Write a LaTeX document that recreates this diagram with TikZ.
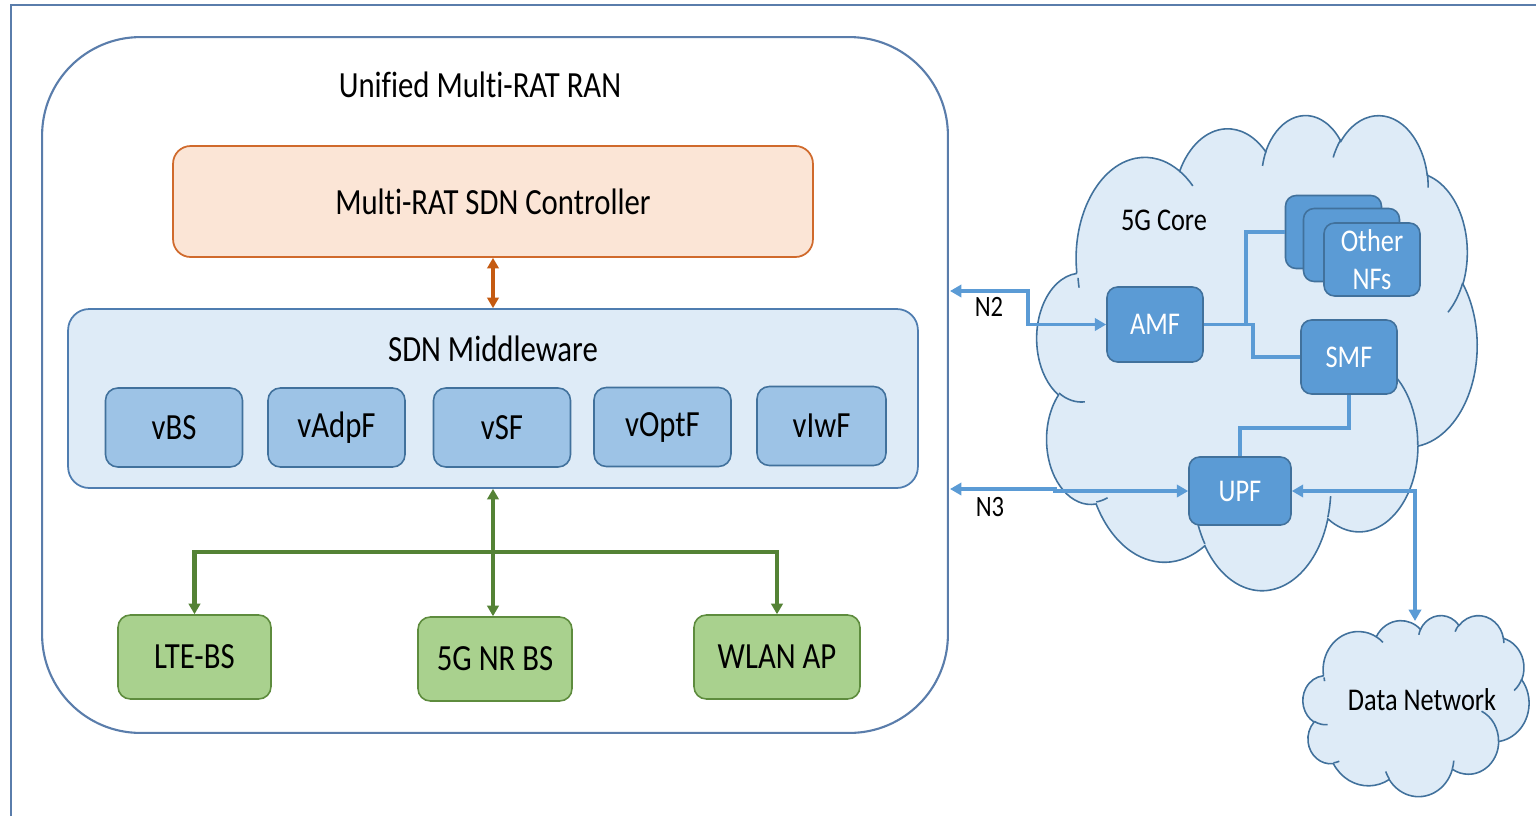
\documentclass[tikz,border=0pt]{standalone}
\usepackage{graphicx}
\usepackage{fontspec}
\setmainfont{Carlito}[Ligatures=NoCommon]
\usetikzlibrary{arrows.meta}

\definecolor{frameblue}{HTML}{5A7DAB}
\definecolor{ctrlfill}{HTML}{FBE5D6}
\definecolor{ctrlline}{HTML}{D06A2C}
\definecolor{ctrlarrow}{HTML}{C55A11}
\definecolor{mwfill}{HTML}{DEEBF7}
\definecolor{mwline}{HTML}{4F7DB0}
\definecolor{vfill}{HTML}{9DC3E6}
\definecolor{vline}{HTML}{41719C}
\definecolor{gfill}{HTML}{A9D18E}
\definecolor{gline}{HTML}{5E8C3E}
\definecolor{garrowc}{HTML}{548235}
\definecolor{cloudfill}{HTML}{DEEBF7}
\definecolor{cloudline}{HTML}{41719C}
\definecolor{nffill}{HTML}{5B9BD5}
\definecolor{link}{HTML}{5B9BD5}

% labels are set slightly condensed (taller than wide)
\newcommand\tall[1]{\scalebox{1}[1.2]{#1}}

% parametric angle of an ellipse point given by its visual angle
\pgfmathdeclarefunction{pang}{3}{\pgfmathparse{atan2((#1)*sin(#3),(#2)*cos(#3))}}
% parametric sweep between two visual angles, keeping the sweep direction
\pgfmathdeclarefunction{pdelta}{4}{\pgfmathparse{ifthenelse((#4)>0, mod(pang(#1,#2,(#3)+(#4))-pang(#1,#2,#3)+720,360), -mod(pang(#1,#2,#3)-pang(#1,#2,(#3)+(#4))+720,360))}}

\tikzset{
  oarc/.style n args={4}{x radius=#1, y radius=#2,
    start angle={pang(#1,#2,#3)}, delta angle={pdelta(#1,#2,#3,#4)}},
  big/.style={font=\fontsize{17.5}{21}\selectfont},
  mid/.style={font=\fontsize{15}{18}\selectfont},
  small/.style={font=\fontsize{14}{17}\selectfont},
  frame/.style={draw=frameblue, line width=1.4pt},
  ranbox/.style={draw=frameblue, line width=1.2pt, fill=white, rounded corners=56pt},
  ctrlbox/.style={draw=ctrlline, line width=1pt, fill=ctrlfill, rounded corners=10pt, big},
  mwbox/.style={draw=mwline, line width=1pt, fill=mwfill, rounded corners=12pt},
  vbox/.style={draw=vline, line width=0.9pt, fill=vfill, rounded corners=7pt,
    minimum width=2.74cm, minimum height=1.58cm, big},
  gbox/.style={draw=gline, line width=0.9pt, fill=gfill, rounded corners=7pt,
    minimum height=1.68cm, big},
  nfbox/.style={draw=vline, line width=0.9pt, fill=nffill, rounded corners=6pt,
    text=white, mid},
  cloudstyle/.style={draw=cloudline, line width=0.9pt, fill=cloudfill},
  oarrow/.style={draw=ctrlarrow, line width=2pt,
    {Triangle[length=6pt,width=6.5pt]}-{Triangle[length=6pt,width=6.5pt]}},
  garrow/.style={draw=garrowc, line width=2.3pt,
    {Triangle[length=6pt,width=6.5pt]}-{Triangle[length=6pt,width=6.5pt]}},
  blink/.style={draw=link, line width=2.2pt},
  barrow/.style={blink,
    {Triangle[length=6.5pt,width=7pt]}-{Triangle[length=6.5pt,width=7pt]}},
}

% Office-style cloud in a box: #1,#2 top-left corner, #3 width, #4 height
\newcommand\drawcloud[4]{%
  \pgfmathsetmacro\cldx{#3*0.02/43.2}%
  \pgfmathsetmacro\cldy{#4*0.02/43.2}%
  \begin{scope}[shift={(#1,#2)}, x=\cldx cm, y=-\cldy cm]
    \filldraw[cloudstyle] (3.900,14.370)
      arc[oarc={6.753}{9.190}{-190.48748}{123.78053}]
      arc[oarc={5.333}{7.267}{-144.10238}{89.94523}]
      arc[oarc={4.365}{5.945}{-145.80792}{99.72302}]
      arc[oarc={4.857}{6.595}{-130.98607}{117.24173}]
      arc[oarc={5.333}{7.273}{-78.70888}{109.02692}]
      arc[oarc={6.775}{9.220}{-46.26725}{130.269}]
      arc[oarc={5.785}{7.867}{0.62502}{114.03333}]
      arc[oarc={6.752}{9.215}{22.4516}{115.17255}]
      arc[oarc={7.720}{10.543}{66.24263}{75.71102}]
      arc[oarc={4.360}{5.918}{-274.94208}{146.73557}]
      arc[oarc={4.345}{5.945}{-246.8285}{152.51885}]
      -- cycle;
    \draw[cloudstyle, fill=none]
      (4.693,26.177) arc[oarc={4.345}{5.945}{86.742}{26.4295}]
      (6.928,34.899) arc[oarc={4.360}{5.918}{73.61047}{11.44747}]
      (16.478,39.090) arc[oarc={6.752}{9.215}{137.62415}{14.0811}]
      (28.827,34.751) arc[oarc={6.752}{9.215}{6.45327}{15.99835}]
      (34.129,22.954) arc[oarc={5.785}{7.867}{-70.29235}{70.91737}]
      (41.798,15.354) arc[oarc={5.333}{7.273}{30.31803}{27.7515}]
      (38.324,5.426) arc[oarc={4.857}{6.595}{-13.74433}{14.8589}]
      (29.078,3.952) arc[oarc={4.857}{6.595}{-149.18145}{18.19537}]
      (22.141,4.720) arc[oarc={4.365}{5.945}{-163.49427}{17.68635}]
      (14.000,5.192) arc[oarc={6.753}{9.190}{-66.70695}{12.31935}]
      (4.127,15.789) arc[oarc={6.753}{9.190}{164.58518}{7.50262}];
  \end{scope}}

\begin{document}
\begin{tikzpicture}[x=0.02cm, y=-0.02cm]
\useasboundingbox (0,0) rectangle (1536,816);

% page frame
\draw[frame] (11,816) -- (11,5) -- (1536,5);

% ---------------- RAN side ----------------
\node[ranbox, minimum width=18.12cm, minimum height=13.92cm] (ran) at (495,385) {};
\node[big] (rantitle) at (480,85) {\tall{Unified Multi-RAT RAN}};

\node[ctrlbox, minimum width=12.8cm, minimum height=2.22cm] (ctrl) at (493,201.5)
  {\tall{Multi-RAT SDN Controller}};

\node[mwbox, minimum width=17cm, minimum height=3.58cm] (mw) at (493,398.5) {};
\node[big] (mwtitle) at (493,349) {\tall{SDN Middleware}};

\node[vbox] (vbs)   at (174,427.5) {\tall{vBS}};
\node[vbox] (vadpf) at (336.5,427.5) {\tall{vAdpF}};
\node[vbox] (vsf)   at (502,427.5) {\tall{vSF}};
\node[vbox] (voptf) at (662.5,427) {\tall{vOptF}};
\node[vbox, minimum width=2.58cm] (viwf) at (821.5,426) {\tall{vIwF}};

\node[gbox, minimum width=3.06cm] (lte)  at (194.5,657) {\tall{LTE-BS}};
\node[gbox, minimum width=3.08cm] (nr)   at (495,659) {\tall{5G NR BS}};
\node[gbox, minimum width=3.32cm] (wlan) at (777,657) {\tall{WLAN AP}};

\draw[oarrow] (ctrl.south) -- (mw.north);

\coordinate (hub) at (493,552);
\draw[garrow] (mw.south) -- (mw.south |- nr.north);
\draw[garrow] (lte.north) |- (hub) -| (wlan.north);

% ---------------- core side ----------------
\drawcloud{1037}{114}{440}{475}
\drawcloud{1303}{615}{226}{181}

\node[mid] (coretitle) at (1164,220) {\tall{5G Core}};
\node[mid] (dntitle) at (1422,700) {\tall{Data Network}};

\node[nfbox, minimum width=1.92cm, minimum height=1.46cm] (nf1) at (1333.5,232) {};
\node[nfbox, minimum width=1.92cm, minimum height=1.46cm] (nf2) at (1351.5,245) {};
\node[nfbox, minimum width=1.92cm, minimum height=1.46cm, align=center,
      font=\fontsize{15}{22}\selectfont] (nf3) at (1372,259.5) {\tall{Other}\\\tall{NFs}};

\node[nfbox, minimum width=1.92cm, minimum height=1.5cm] (amf) at (1155,324.5) {\tall{AMF}};
\node[nfbox, minimum width=1.92cm, minimum height=1.48cm] (smf) at (1349,357) {\tall{SMF}};
\node[nfbox, minimum width=2.04cm, minimum height=1.36cm] (upf) at (1240,491) {\tall{UPF}};

\coordinate (n2end) at (950,291);
\coordinate (n3end) at (950,489);
\coordinate (dntop) at (1415,621);

\draw[blink] (amf.east) -- ++(42,0) |- (nf1.west);
\draw[blink] (amf.east) -- ++(49,0) |- (smf.west);
\draw[blink] (smf.south) -- ++(0,33) -| (upf.north);

\draw[barrow] (n2end) -- ++(78,0) |- (amf.west);
\draw[barrow] (n3end) -- ++(105,0) |- (upf.west);
\draw[barrow] (upf.east) -| (dntop);

\node[small] (n2) at (989,307) {\tall{N2}};
\node[small] (n3) at (990,507) {\tall{N3}};
\end{tikzpicture}
\end{document}
